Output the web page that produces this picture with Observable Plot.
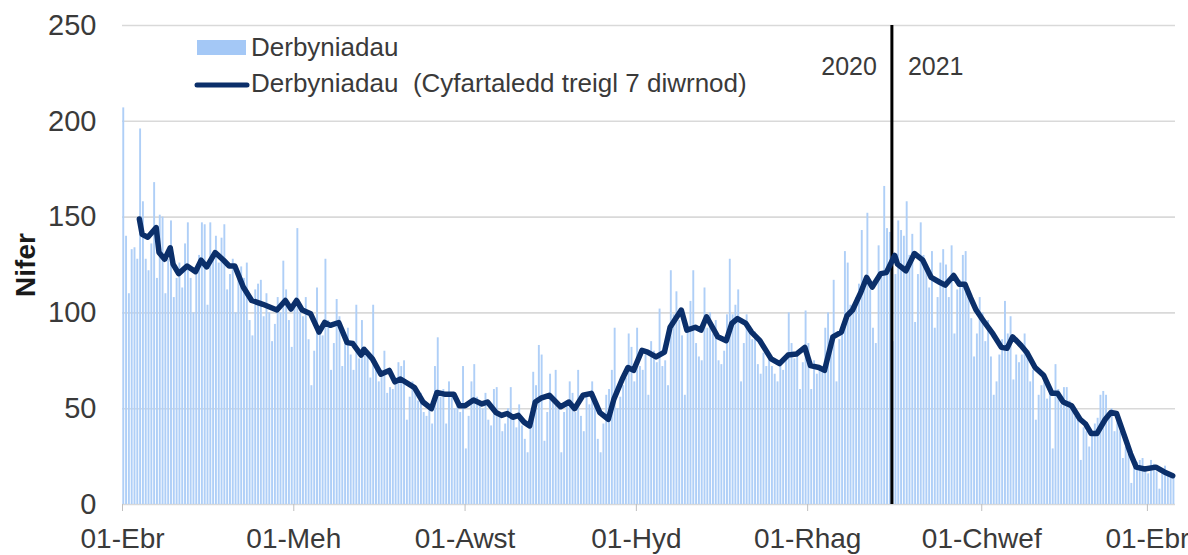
<!DOCTYPE html>
<html>
<head>
<meta charset="utf-8">
<script src="https://cdn.jsdelivr.net/npm/d3@7"></script>
<script src="https://cdn.jsdelivr.net/npm/@observablehq/plot@0.6"></script>
<style>
  html, body { margin: 0; padding: 0; background: #fff; }
  #chart { width: 1188px; height: 555px; overflow: hidden; }
</style>
</head>
<body>
<div id="chart"></div>
<script>
// ---- Data ----
const startDate = "2020-04-01";   // first day of the daily series
const endDate = "2021-04-11";     // end of the x domain
const boundaryDate = "2020-12-31"; // 2020 | 2021 divider

// Daily admissions ("Derbyniadau"), one value per day from startDate
const admissions = [
  207,140,110,133,134,128,196,
  158,128,122,136,168,118,151,
  150,110,128,148,108,118,126,
  113,136,147,118,100,122,130,
  147,146,104,147,128,140,126,
  139,146,112,120,128,100,122,
  124,118,126,96,88,112,115,
  117,98,110,100,85,94,108,
  100,127,112,96,82,104,144,
  100,98,108,86,62,80,113,
  92,88,128,96,70,84,107,
  98,72,88,92,78,70,104,
  76,96,82,80,66,104,72,
  64,70,80,58,61,60,66,
  74,72,75,44,56,64,60,
  54,58,48,46,50,42,72,
  87,56,60,42,64,58,50,
  52,48,72,29,46,64,73,
  56,52,50,58,44,41,60,
  61,46,38,42,50,61,44,
  40,52,41,34,27,40,69,
  62,83,78,33,48,68,56,
  70,50,27,48,54,64,58,
  48,70,46,38,57,52,64,
  56,34,27,42,57,60,70,
  92,50,56,62,66,89,82,
  64,92,72,70,78,57,85,
  80,74,102,72,75,62,122,
  99,111,96,88,57,92,106,
  122,84,77,75,113,92,100,
  89,96,75,73,80,99,128,
  99,104,112,64,84,99,92,
  86,90,73,68,79,72,77,
  72,68,64,73,70,77,100,
  84,76,78,60,74,101,84,
  60,75,68,72,70,92,100,
  88,117,64,86,90,132,126,
  104,100,108,115,143,113,152,
  112,92,84,135,120,166,144,
  142,85,120,148,143,140,158,
  130,141,95,120,147,130,125,
  113,132,92,108,126,133,125,
  108,135,89,112,117,130,132,
  110,97,77,89,108,100,85,
  96,77,57,64,78,86,106,
  89,98,65,78,74,78,89,
  80,64,70,44,57,62,68,
  55,58,29,73,60,52,61,
  61,54,52,46,46,23,40,
  38,30,36,42,45,57,59,
  57,46,50,38,45,38,24,
  30,26,11,20,22,23,24,
  19,16,23,21,17,8,18,
  20,15,14,15
];

// 7-day rolling average: day offset from startDate and value
const avgDay = [6,7,9,12,13,15,17,18,20,23,26,28,30,33,36,38,40,43,46,50,55,58,60,62,64,67,70,72,74,77,80,82,85,86,89,92,95,97,99,104,107,110,112,115,118,120,122,125,128,130,133,135,137,139,141,143,145,147,149,152,156,159,161,164,167,170,173,175,178,180,182,185,187,190,193,195,199,201,204,206,208,212,215,217,219,222,224,227,231,234,237,240,243,245,248,250,253,256,258,260,263,265,267,270,272,275,276,279,282,285,288,291,293,296,298,300,302,304,307,310,313,315,317,320,322,325,328,331,333,335,338,341,343,345,347,350,352,354,357,359,361,364,368,371,374];
const avgValue = [149,141,139.5,144.5,131.5,128,134,125.5,120.5,124.5,121.5,127.5,124,131.5,127.5,124.5,124.5,113.5,106.5,104.5,101.5,106.5,102,106.5,101.5,99.5,90,95,93.5,95,84.5,84,78,81,76,68,70,64,65.5,61,53.5,50,58.5,57.5,57.5,51.5,51.5,54.5,52.5,53.5,48,46.5,47.5,45.5,46.5,43,41,53.5,55.5,57,51,53.5,50,57,58,48,44.5,55,65.5,71.5,70,80.5,79.5,77,79.5,92.5,101.5,91,92.5,91,98,87.5,85.5,94.5,97,94.5,90,85.5,76,73.5,78,78.5,82,72.5,71.5,70,87.5,90,98.5,101.5,111,118.5,113.5,120.5,121,130,125.5,122,131,127.5,118.5,116,114.5,119.5,115,115,108,101.5,95,89,82,81.5,87.5,83,79.5,71.5,67.5,58,58,53.5,51.5,44.5,42,37,37,44.5,48,47.5,35,26.5,19.5,18.5,19.5,17,15];

// Axis ticks
const yTicks = [0, 50, 100, 150, 200, 250];
const xTickDates = ["2020-04-01","2020-06-01","2020-08-01","2020-10-01","2020-12-01","2021-02-01","2021-04-01"];
const xTickLabels = ["01-Ebr","01-Meh","01-Awst","01-Hyd","01-Rhag","01-Chwef","01-Ebr"];

// Legend / labels
const legendBars = "Derbyniadau";
const legendLine = "Derbyniadau  (Cyfartaledd treigl 7 diwrnod)";
const yLabel = "Nifer";
const yearLabels = ["2020", "2021"];

// ---- Build tables ----
const t0 = new Date(startDate + "T00:00:00Z");
const bars = admissions.map((v, i) => ({date: d3.utcDay.offset(t0, i), value: v}));
const avg = avgDay.map((d, i) => ({date: d3.utcDay.offset(t0, d), value: avgValue[i]}));
const tickDates = xTickDates.map(s => new Date(s + "T00:00:00Z"));
const tickLabelMap = new Map(tickDates.map((d, i) => [+d, xTickLabels[i]]));
const boundary = new Date(boundaryDate + "T00:00:00Z");

const FONT = "'Liberation Sans', Arial, Helvetica, sans-serif";
const BAR = "#afcff7";
const LINE = "#0b2f6a";
const TEXT = "#3a3a3a";

const chart = Plot.plot({
  width: 1188,
  height: 555,
  marginTop: 25,
  marginRight: 13,
  marginBottom: 51,
  marginLeft: 122,
  style: {fontFamily: FONT, fontSize: "28px", color: TEXT, background: "#fff"},
  x: {type: "utc", domain: [t0, new Date(endDate + "T00:00:00Z")]},
  y: {domain: [0, 250]},
  marks: [
    Plot.gridY(yTicks, {stroke: "#d9d9d9", strokeOpacity: 1, strokeWidth: 1.6}),
    Plot.rectY(bars, {x: "date", y: "value", interval: d3.utcDay, fill: BAR, insetLeft: 0.3, insetRight: 0.6}),
    Plot.ruleX([boundary], {stroke: "#000", strokeWidth: 3}),
    Plot.line(avg, {x: "date", y: "value", stroke: LINE, strokeWidth: 5.5, strokeLinejoin: "round", strokeLinecap: "round"}),
    Plot.axisY({ticks: yTicks, tickSize: 0, tickPadding: 26, label: null, fontSize: 29}),
    Plot.axisX({ticks: tickDates, tickSize: 7, tickFormat: () => "", stroke: "#bfbfbf", label: null}),
    Plot.axisX({ticks: tickDates, tickSize: 0, tickPadding: 24, tickFormat: d => tickLabelMap.get(+d), label: null, fontSize: 28}),
    Plot.text([yearLabels[0]], {x: () => boundary, frameAnchor: "top", textAnchor: "end", dx: -15, dy: 32, fontSize: 25, fill: TEXT}),
    Plot.text([yearLabels[1]], {x: () => boundary, frameAnchor: "top", textAnchor: "start", dx: 16, dy: 32, fontSize: 25, fill: TEXT})
  ]
});

document.getElementById("chart").appendChild(chart);

// Legend and y label overlay inside the SVG
const svg = d3.select(chart);
const g = svg.append("g").attr("font-family", FONT).attr("fill", TEXT).attr("text-anchor", "start");
g.append("rect").attr("x", 197).attr("y", 40).attr("width", 49).attr("height", 15).attr("fill", "#a4c8f6");
g.append("text").attr("x", 251).attr("y", 56).attr("font-size", 26).attr("text-anchor", "start").text(legendBars);
g.append("line").attr("x1", 197).attr("x2", 247).attr("y1", 85).attr("y2", 85)
  .attr("stroke", LINE).attr("stroke-width", 5).attr("stroke-linecap", "round");
g.append("text").attr("x", 251).attr("y", 92).attr("font-size", 26).attr("text-anchor", "start")
  .style("white-space", "pre").attr("xml:space", "preserve").text(legendLine);
g.append("text").attr("transform", "translate(35,265) rotate(-90)").attr("text-anchor", "middle")
  .attr("font-size", 28).attr("font-weight", "bold").attr("fill", "#1a1a1a").text(yLabel);
</script>
</body>
</html>
